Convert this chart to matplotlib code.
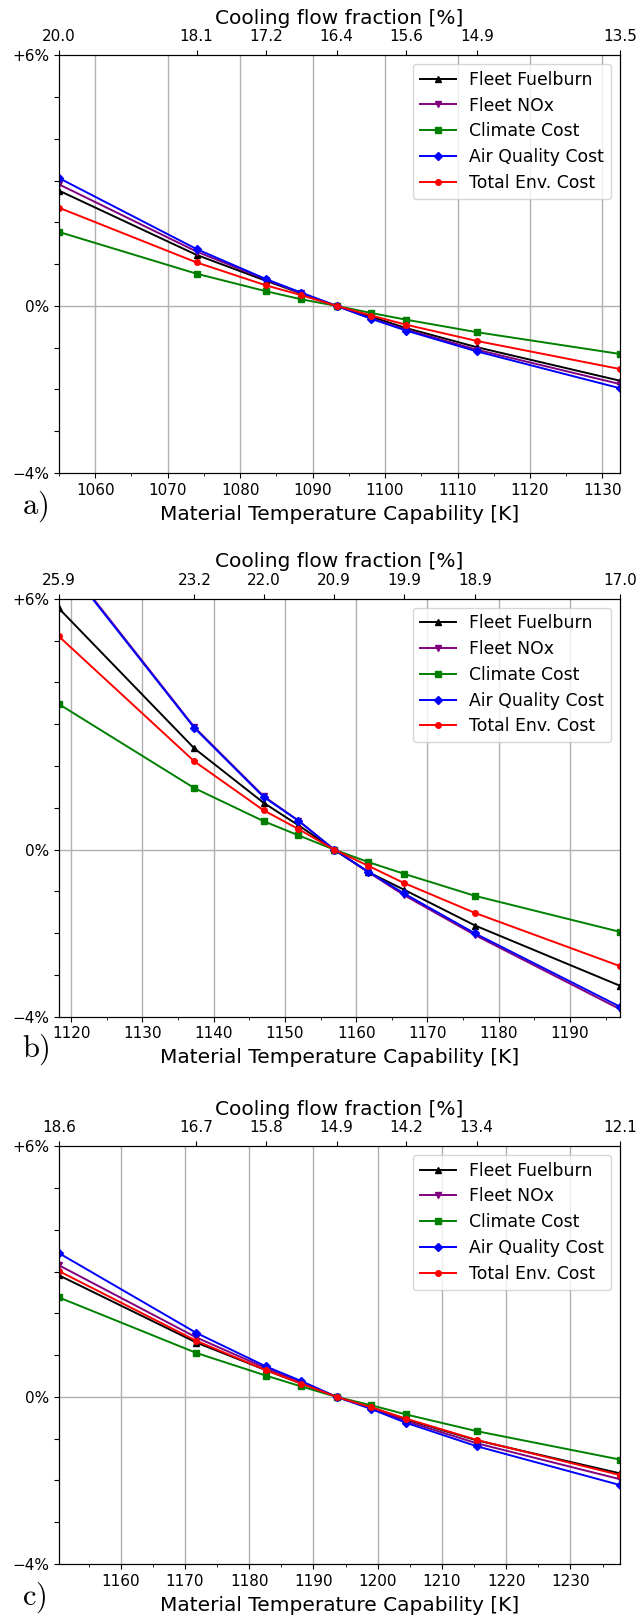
import numpy as np
import matplotlib.pyplot as plt
from matplotlib.ticker import FixedLocator, MultipleLocator

plt.rcParams['mathtext.fontset'] = 'cm'

series = ["Fleet Fuelburn", "Fleet NOx", "Climate Cost", "Air Quality Cost", "Total Env. Cost"]
colors = ["black", "purple", "green", "blue", "red"]
markers = ["^", "v", "s", "D", "o"]

# panel a
temp_a = [1055.0, 1074.0, 1083.6, 1088.4, 1093.3, 1098.1, 1102.9, 1112.7, 1132.4]
cool_a = ["20.0", "18.1", "17.2", "16.4", "15.6", "14.9", "13.5"]
fuel_a = [2.76, 1.22, 0.60, 0.30, 0.0, -0.26, -0.53, -0.99, -1.79]
nox_a = [2.91, 1.30, 0.63, 0.30, 0.0, -0.30, -0.57, -1.05, -1.87]
clim_a = [1.77, 0.77, 0.35, 0.16, 0.0, -0.17, -0.33, -0.63, -1.15]
aq_a = [3.06, 1.36, 0.64, 0.32, 0.0, -0.31, -0.59, -1.09, -1.97]
tot_a = [2.35, 1.04, 0.49, 0.26, 0.0, -0.23, -0.45, -0.84, -1.51]

# panel b
temp_b = [1118.3, 1137.3, 1147.0, 1151.9, 1156.9, 1161.7, 1166.7, 1176.7, 1197.0]
cool_b = ["25.9", "23.2", "22.0", "20.9", "19.9", "18.9", "17.0"]
fuel_b = [5.77, 2.42, 1.12, 0.58, 0.0, -0.54, -0.96, -1.82, -3.26]
nox_b = [7.05, 2.93, 1.28, 0.69, 0.0, -0.54, -1.09, -2.05, -3.82]
clim_b = [3.48, 1.47, 0.68, 0.34, 0.0, -0.30, -0.58, -1.11, -1.97]
aq_b = [7.02, 2.91, 1.26, 0.69, 0.0, -0.53, -1.05, -2.01, -3.76]
tot_b = [5.10, 2.11, 0.94, 0.49, 0.0, -0.39, -0.80, -1.52, -2.79]

# panel c
temp_c = [1150.4, 1171.8, 1182.6, 1188.1, 1193.6, 1199.0, 1204.4, 1215.4, 1237.7]
cool_c = ["18.6", "16.7", "15.8", "14.9", "14.2", "13.4", "12.1"]
fuel_c = [2.91, 1.30, 0.64, 0.32, 0.0, -0.25, -0.54, -1.04, -1.83]
nox_c = [3.15, 1.42, 0.69, 0.34, 0.0, -0.27, -0.58, -1.11, -1.97]
clim_c = [2.38, 1.05, 0.51, 0.25, 0.0, -0.20, -0.42, -0.82, -1.50]
aq_c = [3.44, 1.53, 0.73, 0.38, 0.0, -0.29, -0.62, -1.18, -2.11]
tot_c = [3.01, 1.34, 0.64, 0.32, 0.0, -0.25, -0.52, -1.03, -1.87]

top_idx = [0, 1, 2, 4, 6, 7, 8]

panels = [
    ("a)", temp_a, cool_a, [fuel_a, nox_a, clim_a, aq_a, tot_a], 0.7073),
    ("b)", temp_b, cool_b, [fuel_b, nox_b, clim_b, aq_b, tot_b], 0.3709),
    ("c)", temp_c, cool_c, [fuel_c, nox_c, clim_c, aq_c, tot_c], 0.0322),
]

fig = plt.figure(figsize=(6.41, 16.16), dpi=100)

for label, temp, cool, data, bot in panels:
    ax = fig.add_axes([0.092, bot, 0.875, 0.2585])
    for vals, name, c, m in zip(data, series, colors, markers):
        ax.plot(temp, vals, color=c, marker=m, markersize=4, lw=1.4, label=name)
    ax.set_xlim(temp[0], temp[-1])
    ax.set_ylim(-4, 6)
    ax.xaxis.set_major_locator(MultipleLocator(10))
    ax.xaxis.set_minor_locator(MultipleLocator(5))
    ax.grid(True, axis="x", which="major", color="#b0b0b0", lw=1.0)
    ax.axhline(0, color="#b0b0b0", lw=1.0, zorder=0)
    ax.yaxis.set_major_locator(FixedLocator(np.arange(-4, 7)))
    ax.set_yticklabels(["\u22124%"] + [""] * 3 + ["0%"] + [""] * 5 + ["+6%"])
    ax.tick_params(labelsize=11)
    ax.set_xlabel("Material Temperature Capability [K]", fontsize=14.5, labelpad=5)
    ax.legend(loc="upper right", fontsize=12.4, handlelength=2.1, labelspacing=0.45)

    ax2 = ax.twiny()
    ax2.set_xlim(ax.get_xlim())
    ax2.set_xticks([temp[i] for i in top_idx])
    ax2.set_xticklabels(cool)
    ax2.tick_params(labelsize=11, pad=4.5)
    ax2.set_xlabel("Cooling flow fraction [%]", fontsize=14.5, labelpad=4)

    fig.text(0.034, bot - 0.0208, r"$\mathrm{" + label + "}$", fontsize=22, va="center")

fig.savefig("out.png", dpi=100)
